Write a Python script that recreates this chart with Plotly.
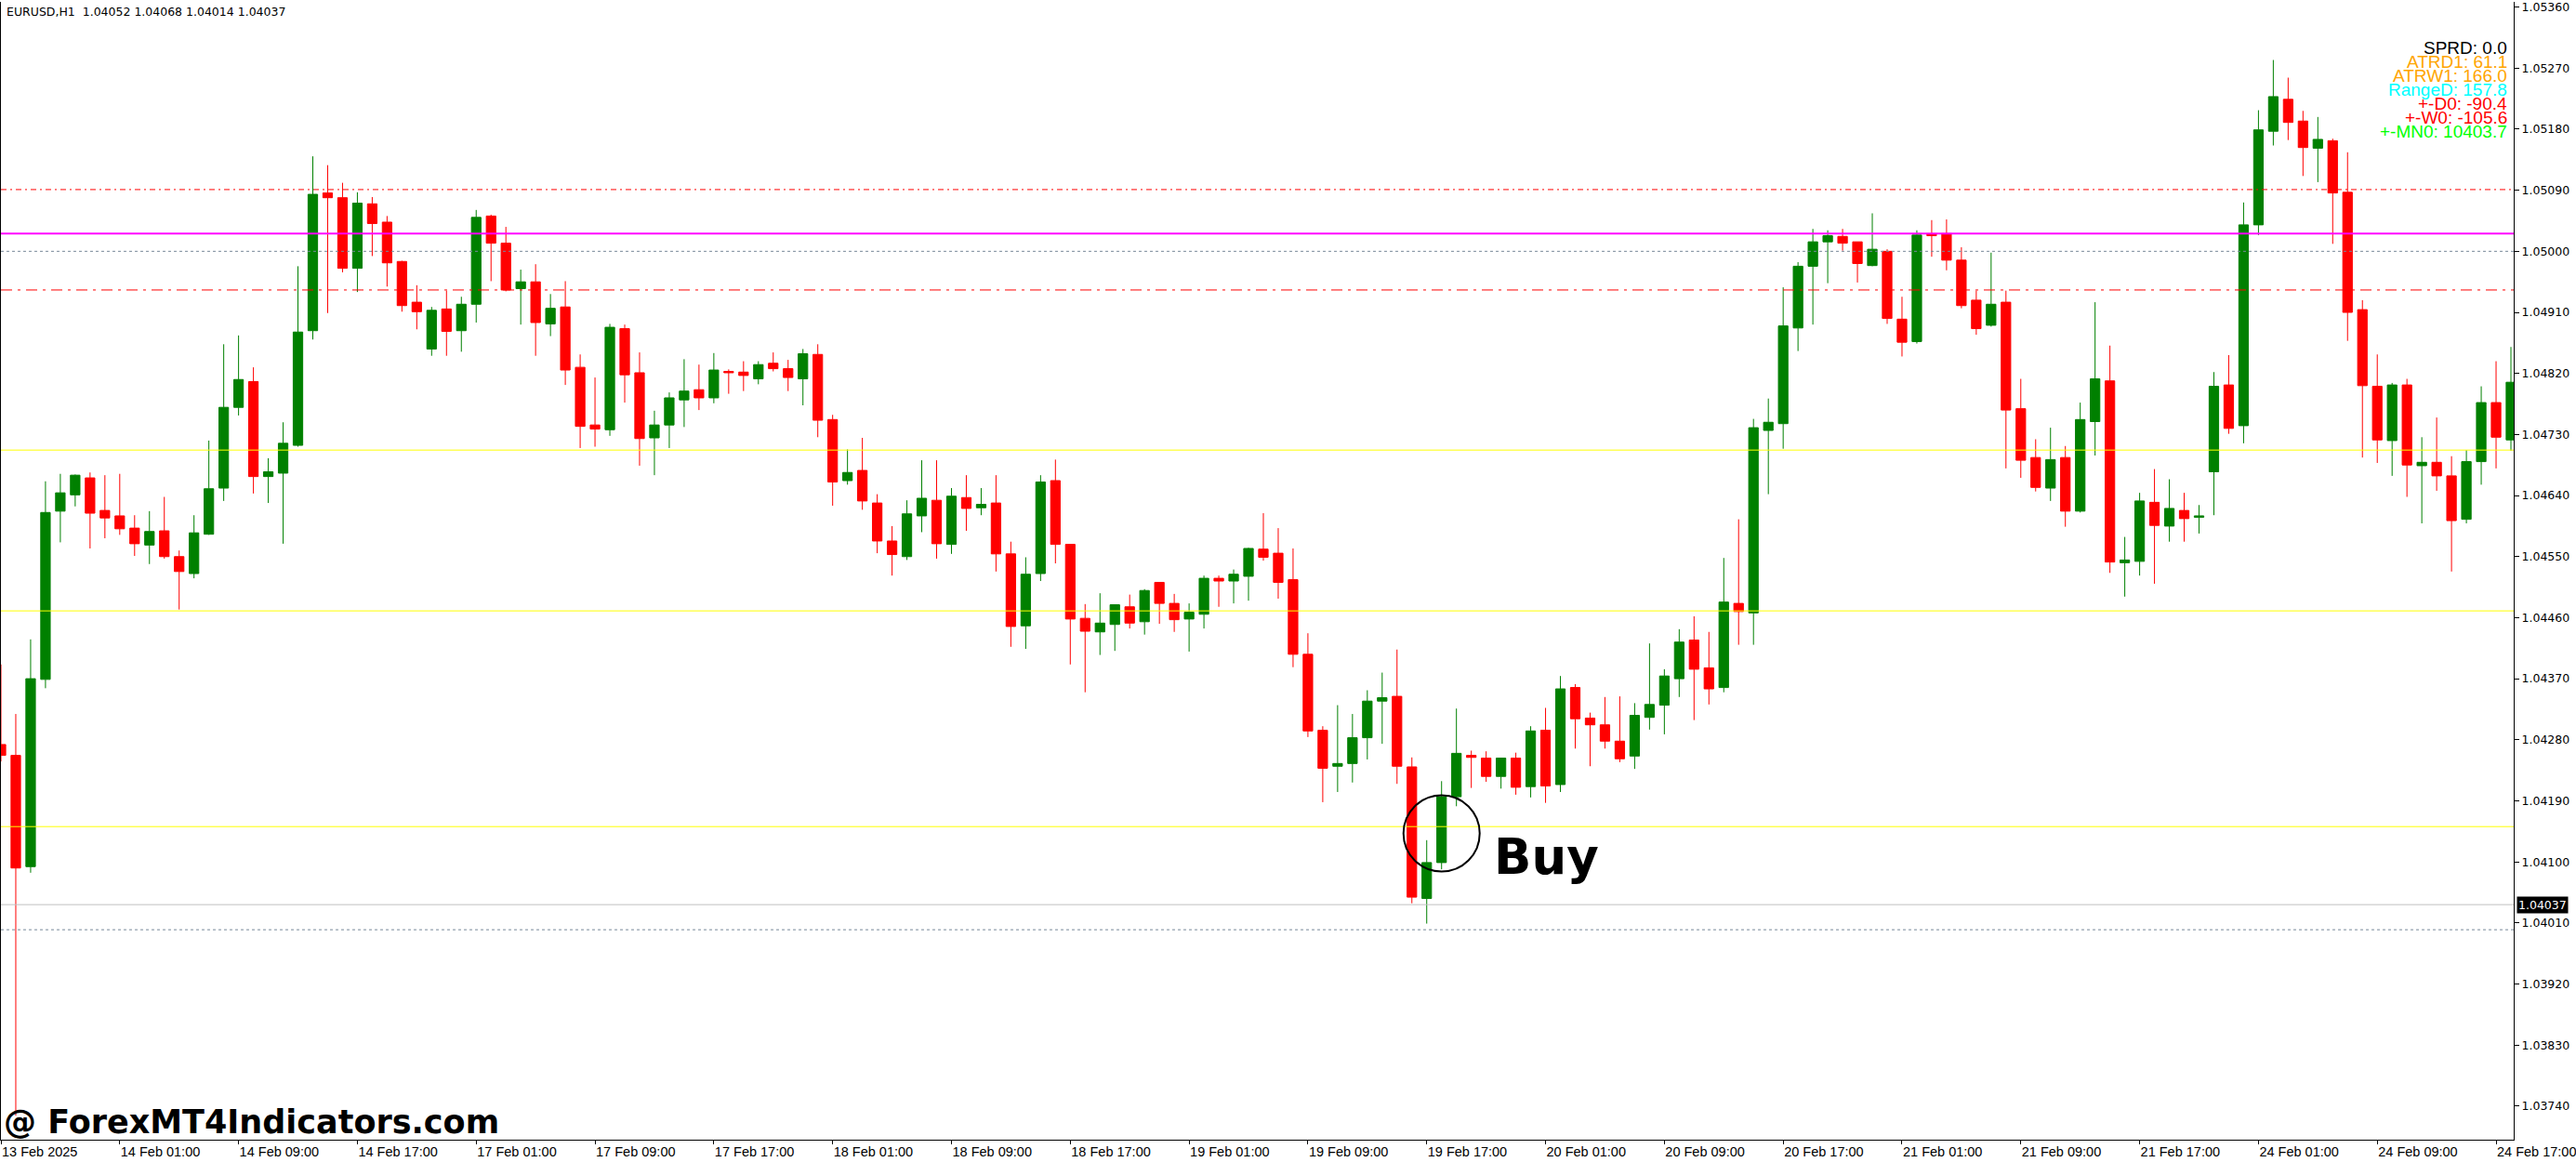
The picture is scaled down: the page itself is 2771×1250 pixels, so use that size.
import plotly.graph_objects as go

# ---------------- data (EURUSD H1, 13 Feb 17:00 .. 24 Feb 18:00) ----------------
OPEN = [1.04273, 1.04257, 1.04093, 1.04369, 1.04617, 1.04641, 1.04666, 1.04618, 1.04610, 1.04592,
        1.04567, 1.04588, 1.04550, 1.04525, 1.04583, 1.04651, 1.04770, 1.04808, 1.04668, 1.04673,
        1.04714, 1.04883, 1.05086, 1.05079, 1.04975, 1.05070, 1.05043, 1.04985, 1.04925, 1.04856,
        1.04915, 1.04883, 1.04922, 1.05052, 1.05012, 1.04945, 1.04955, 1.04893, 1.04918, 1.04829,
        1.04744, 1.04737, 1.04886, 1.04821, 1.04725, 1.04744, 1.04781, 1.04796, 1.04784, 1.04823,
        1.04822, 1.04812, 1.04835, 1.04827, 1.04812, 1.04848, 1.04752, 1.04662, 1.04677, 1.04629,
        1.04573, 1.04550, 1.04610, 1.04633, 1.04568, 1.04637, 1.04622, 1.04629, 1.04554, 1.04448,
        1.04525, 1.04662, 1.04568, 1.04459, 1.04439, 1.04450, 1.04476, 1.04454, 1.04512, 1.04481,
        1.04458, 1.04465, 1.04518, 1.04514, 1.04521, 1.04561, 1.04555, 1.04516, 1.04406, 1.04294,
        1.04241, 1.04245, 1.04283, 1.04337, 1.04344, 1.04240, 1.04046, 1.04099, 1.04196, 1.04257,
        1.04253, 1.04226, 1.04253, 1.04211, 1.04294, 1.04214, 1.04357, 1.04312, 1.04302, 1.04278,
        1.04256, 1.04313, 1.04331, 1.04370, 1.04427, 1.04386, 1.04357, 1.04481, 1.04467, 1.04736,
        1.04746, 1.04887, 1.04978, 1.05014, 1.05022, 1.05014, 1.04979, 1.05000, 1.04900, 1.04867,
        1.05025, 1.05026, 1.04987, 1.04928, 1.04891, 1.04925, 1.04768, 1.04696, 1.04651, 1.04696,
        1.04617, 1.04749, 1.04809, 1.04541, 1.04543, 1.04630, 1.04595, 1.04618, 1.04608, 1.04675,
        1.04803, 1.04743, 1.05039, 1.05177, 1.05224, 1.05192, 1.05152, 1.05163, 1.05087, 1.04914,
        1.04801, 1.04721, 1.04803, 1.04684, 1.04689, 1.04669, 1.04605, 1.04690, 1.04777, 1.04722]

HIGH = [1.04391, 1.04318, 1.04428, 1.04661, 1.04672, 1.04671, 1.04674, 1.04670, 1.04672, 1.04611,
        1.04617, 1.04638, 1.04559, 1.04611, 1.04721, 1.04863, 1.04876, 1.04829, 1.04695, 1.04748,
        1.04978, 1.05140, 1.05127, 1.05101, 1.05087, 1.05080, 1.05052, 1.04986, 1.04950, 1.04918,
        1.04942, 1.04933, 1.05061, 1.05054, 1.05036, 1.04973, 1.04981, 1.04937, 1.04956, 1.04848,
        1.04814, 1.04893, 1.04892, 1.04851, 1.04765, 1.04792, 1.04841, 1.04833, 1.04850, 1.04826,
        1.04838, 1.04838, 1.04851, 1.04840, 1.04856, 1.04863, 1.04759, 1.04708, 1.04725, 1.04642,
        1.04595, 1.04633, 1.04692, 1.04692, 1.04651, 1.04670, 1.04651, 1.04670, 1.04572, 1.04549,
        1.04670, 1.04693, 1.04568, 1.04480, 1.04496, 1.04479, 1.04494, 1.04502, 1.04512, 1.04495,
        1.04481, 1.04522, 1.04522, 1.04531, 1.04563, 1.04614, 1.04592, 1.04562, 1.04437, 1.04300,
        1.04331, 1.04318, 1.04353, 1.04379, 1.04413, 1.04254, 1.04132, 1.04219, 1.04326, 1.04264,
        1.04263, 1.04253, 1.04261, 1.04300, 1.04327, 1.04374, 1.04362, 1.04320, 1.04343, 1.04344,
        1.04334, 1.04422, 1.04384, 1.04443, 1.04462, 1.04439, 1.04548, 1.04605, 1.04753, 1.04783,
        1.04947, 1.04984, 1.05033, 1.05031, 1.05033, 1.05014, 1.05056, 1.05003, 1.04933, 1.05031,
        1.05046, 1.05047, 1.05006, 1.04942, 1.04998, 1.04942, 1.04812, 1.04723, 1.04740, 1.04713,
        1.04777, 1.04925, 1.04861, 1.04579, 1.04644, 1.04679, 1.04664, 1.04644, 1.04626, 1.04822,
        1.04847, 1.05072, 1.05208, 1.05282, 1.05256, 1.05207, 1.05198, 1.05166, 1.05146, 1.04928,
        1.04848, 1.04806, 1.04812, 1.04726, 1.04755, 1.04698, 1.04707, 1.04801, 1.04838, 1.04859]

LOW = [1.04248, 1.03726, 1.04084, 1.04356, 1.04571, 1.04624, 1.04562, 1.04577, 1.04582, 1.04551,
       1.04539, 1.04547, 1.04472, 1.04518, 1.04582, 1.04632, 1.04758, 1.04643, 1.04629, 1.04569,
       1.04712, 1.04870, 1.04909, 1.04969, 1.04940, 1.04993, 1.04948, 1.04911, 1.04885, 1.04846,
       1.04846, 1.04852, 1.04895, 1.04956, 1.04941, 1.04892, 1.04846, 1.04875, 1.04803, 1.04710,
       1.04712, 1.04728, 1.04777, 1.04684, 1.04670, 1.04710, 1.04741, 1.04766, 1.04776, 1.04790,
       1.04794, 1.04804, 1.04823, 1.04794, 1.04773, 1.04726, 1.04625, 1.04656, 1.04619, 1.04555,
       1.04522, 1.04545, 1.04586, 1.04547, 1.04554, 1.04588, 1.04611, 1.04528, 1.04417, 1.04414,
       1.04514, 1.04540, 1.04391, 1.04350, 1.04405, 1.04411, 1.04444, 1.04435, 1.04451, 1.04439,
       1.04410, 1.04444, 1.04476, 1.04481, 1.04485, 1.04544, 1.04488, 1.04387, 1.04284, 1.04188,
       1.04203, 1.04217, 1.04251, 1.04274, 1.04215, 1.04039, 1.04009, 1.04089, 1.04182, 1.04209,
       1.04218, 1.04208, 1.04199, 1.04195, 1.04187, 1.04203, 1.04267, 1.04241, 1.04267, 1.04247,
       1.04237, 1.04295, 1.04288, 1.04343, 1.04309, 1.04332, 1.04350, 1.04420, 1.04420, 1.04642,
       1.04709, 1.04853, 1.04892, 1.04953, 1.05001, 1.04954, 1.04978, 1.04893, 1.04845, 1.04864,
       1.04992, 1.04972, 1.04916, 1.04877, 1.04889, 1.04680, 1.04666, 1.04646, 1.04632, 1.04594,
       1.04615, 1.04699, 1.04526, 1.04491, 1.04522, 1.04510, 1.04572, 1.04572, 1.04584, 1.04611,
       1.04731, 1.04717, 1.05024, 1.05156, 1.05164, 1.05111, 1.05102, 1.05011, 1.04868, 1.04696,
       1.04688, 1.04669, 1.04638, 1.04599, 1.04647, 1.04528, 1.04599, 1.04656, 1.04680, 1.04706]

CLOSE = [1.04257, 1.04091, 1.04370, 1.04615, 1.04644, 1.04670, 1.04614, 1.04607, 1.04591, 1.04569,
         1.04587, 1.04550, 1.04528, 1.04585, 1.04650, 1.04770, 1.04811, 1.04668, 1.04675, 1.04717,
         1.04881, 1.05084, 1.05079, 1.04975, 1.05071, 1.05041, 1.04983, 1.04920, 1.04911, 1.04913,
         1.04882, 1.04922, 1.05050, 1.05012, 1.04943, 1.04955, 1.04895, 1.04916, 1.04825, 1.04742,
         1.04738, 1.04888, 1.04818, 1.04724, 1.04744, 1.04784, 1.04794, 1.04784, 1.04825, 1.04821,
         1.04817, 1.04833, 1.04827, 1.04814, 1.04849, 1.04751, 1.04660, 1.04674, 1.04632, 1.04573,
         1.04553, 1.04613, 1.04636, 1.04569, 1.04639, 1.04621, 1.04627, 1.04554, 1.04447, 1.04524,
         1.04660, 1.04568, 1.04458, 1.04440, 1.04452, 1.04479, 1.04452, 1.04500, 1.04481, 1.04457,
         1.04468, 1.04518, 1.04514, 1.04524, 1.04562, 1.04549, 1.04512, 1.04406, 1.04293, 1.04238,
         1.04245, 1.04283, 1.04337, 1.04342, 1.04241, 1.04048, 1.04099, 1.04196, 1.04260, 1.04254,
         1.04226, 1.04253, 1.04210, 1.04293, 1.04212, 1.04355, 1.04311, 1.04302, 1.04278, 1.04252,
         1.04316, 1.04332, 1.04374, 1.04424, 1.04384, 1.04355, 1.04483, 1.04469, 1.04740, 1.04748,
         1.04890, 1.04978, 1.05014, 1.05023, 1.05012, 1.04982, 1.05003, 1.04901, 1.04866, 1.05024,
         1.05023, 1.04987, 1.04920, 1.04886, 1.04922, 1.04766, 1.04692, 1.04652, 1.04693, 1.04617,
         1.04752, 1.04812, 1.04542, 1.04545, 1.04632, 1.04596, 1.04621, 1.04606, 1.04610, 1.04801,
         1.04739, 1.05039, 1.05179, 1.05228, 1.05190, 1.05153, 1.05165, 1.05086, 1.04910, 1.04802,
         1.04722, 1.04803, 1.04685, 1.04689, 1.04669, 1.04603, 1.04690, 1.04777, 1.04726, 1.04807]

TIME_TICK_LABELS = ["13 Feb 2025", "14 Feb 01:00", "14 Feb 09:00", "14 Feb 17:00", "17 Feb 01:00",
                    "17 Feb 09:00", "17 Feb 17:00", "18 Feb 01:00", "18 Feb 09:00", "18 Feb 17:00",
                    "19 Feb 01:00", "19 Feb 09:00", "19 Feb 17:00", "20 Feb 01:00", "20 Feb 09:00",
                    "20 Feb 17:00", "21 Feb 01:00", "21 Feb 09:00", "21 Feb 17:00", "24 Feb 01:00",
                    "24 Feb 09:00", "24 Feb 17:00"]
BARS_PER_TIME_TICK = 8

PRICE_TICK_LABELS = ["1.05360", "1.05270", "1.05180", "1.05090", "1.05000", "1.04910", "1.04820",
                     "1.04730", "1.04640", "1.04550", "1.04460", "1.04370", "1.04280", "1.04190",
                     "1.04100", "1.04010", "1.03920", "1.03830", "1.03740"]

# horizontal levels
RED_DASHDOT_LEVELS = [1.05091, 1.04943]
MAGENTA_LEVEL = 1.05026
GRAY_DOT_LEVELS = [1.05000, 1.04000]
YELLOW_LEVELS = [1.04707, 1.04470, 1.04152]
BID_PRICE = 1.04037

TITLE_TEXT = "EURUSD,H1\u00a0\u00a01.04052 1.04068 1.04014 1.04037"
INFO_LINES = ["SPRD: 0.0", "ATRD1: 61.1", "ATRW1: 166.0", "RangeD: 157.8",
              "+-D0: -90.4", "+-W0: -105.6", "+-MN0: 10403.7"]
INFO_COLORS = ["#000000", "#FFA500", "#FFA500", "#00FFFF", "#FF0000", "#FF0000", "#00FF00"]

BUY_BAR = 97
BUY_CIRCLE_PRICE = 1.04142
BUY_TEXT_BAR = 100.4
BUY_TEXT_PRICE = 1.04108

# ---------------- figure ----------------
W, H = 2771, 1250
ML, MR, MT, MB = 1, 63, 0, 24
PLOT_W = W - ML - MR
PLOT_H = H - MT - MB
BAR_PX = 16.0
Y_TOP, Y_BOT = 1.053677, 1.036905

x = list(range(len(OPEN)))

fig = go.Figure()
fig.add_trace(go.Candlestick(
    x=x, open=OPEN, high=HIGH, low=LOW, close=CLOSE,
    increasing=dict(line=dict(color="#008000", width=1), fillcolor="#008000"),
    decreasing=dict(line=dict(color="#FF0000", width=1), fillcolor="#FF0000"),
    whiskerwidth=0, hoverinfo="skip", showlegend=False,
))

shapes = []
for i, lv in enumerate(RED_DASHDOT_LEVELS):
    shapes.append(dict(type="line", xref="paper", x0=0, x1=1, yref="y", y0=lv, y1=lv,
                       line=dict(color="#FF0000", width=1,
                                 dash="6px,4px,2px,4px" if i == 0 else "12px,6px,3px,6px"),
                       layer="above"))
for lv in GRAY_DOT_LEVELS:
    shapes.append(dict(type="line", xref="paper", x0=0, x1=1, yref="y", y0=lv, y1=lv,
                       line=dict(color="#778899", width=1, dash="3px,3px"), layer="above"))
for lv in YELLOW_LEVELS:
    shapes.append(dict(type="line", xref="paper", x0=0, x1=1, yref="y", y0=lv, y1=lv,
                       line=dict(color="#FFFF00", width=1), layer="above"))
shapes.append(dict(type="line", xref="paper", x0=0, x1=1, yref="y", y0=MAGENTA_LEVEL, y1=MAGENTA_LEVEL,
                   line=dict(color="#FF00FF", width=2), layer="above"))
shapes.append(dict(type="line", xref="paper", x0=0, x1=1, yref="y", y0=BID_PRICE, y1=BID_PRICE,
                   line=dict(color="#C0C0C0", width=1), layer="above"))
shapes.append(dict(type="circle", xref="x", yref="y", xsizemode="pixel", ysizemode="pixel",
                   xanchor=BUY_BAR, yanchor=BUY_CIRCLE_PRICE, x0=-41, x1=41, y0=-41, y1=41,
                   line=dict(color="#000000", width=2), layer="above"))

def py(px):
    return 1 - px / PLOT_H

annotations = [
    dict(text=TITLE_TEXT, xref="paper", yref="paper", x=0, y=py(11), xanchor="left", yanchor="middle",
         xshift=4, showarrow=False, font=dict(family="DejaVu Sans", size=12.5, color="#000000")),
    dict(text="@ ForexMT4Indicators.com", xref="paper", yref="paper", x=0, y=py(1207),
         xanchor="left", yanchor="middle", xshift=1, showarrow=False,
         font=dict(family="DejaVu Sans", size=35, color="#000000", weight="bold")),
    dict(text="Buy", xref="x", yref="y", x=BUY_TEXT_BAR, y=BUY_TEXT_PRICE, xanchor="left",
         yanchor="middle", showarrow=False,
         font=dict(family="DejaVu Sans", size=53, color="#000000", weight="bold")),
    dict(text="1.04037", xref="paper", yref="y", x=1, y=BID_PRICE, xanchor="left", yanchor="middle",
         xshift=3, showarrow=False, bgcolor="#000000", borderpad=1,
         font=dict(family="DejaVu Sans", size=12.5, color="#FFFFFF")),
]
for k, (txt, col) in enumerate(zip(INFO_LINES, INFO_COLORS)):
    annotations.append(dict(text=txt, xref="paper", yref="paper", x=1, y=py(50 + 15 * k),
                            xanchor="right", yanchor="middle", xshift=-5, showarrow=False,
                            font=dict(family="Liberation Sans", size=19, color=col)))

fig.update_layout(
    width=W, height=H, margin=dict(l=ML, r=MR, t=MT, b=MB, pad=0),
    paper_bgcolor="white", plot_bgcolor="white", showlegend=False,
    boxgap=0.36, boxgroupgap=0, hovermode=False,
    shapes=shapes, annotations=annotations,
    xaxis=dict(
        range=[0, PLOT_W / BAR_PX], type="linear", showgrid=False, zeroline=False,
        showline=True, linecolor="#000000", linewidth=1,
        ticks="outside", ticklen=4, tickcolor="#000000", tickwidth=1,
        tickvals=[i * BARS_PER_TIME_TICK for i in range(len(TIME_TICK_LABELS))],
        ticktext=TIME_TICK_LABELS, ticklabelposition="outside right", ticklabeloverflow="allow",
        tickfont=dict(family="Liberation Sans Narrow, Liberation Sans", size=14.5, color="#000000"),
        rangeslider=dict(visible=False), fixedrange=True,
    ),
    yaxis=dict(
        range=[Y_BOT, Y_TOP], side="right", showgrid=False, zeroline=False,
        showline=True, mirror=True, linecolor="#000000", linewidth=1,
        ticks="outside", ticklen=5, tickcolor="#000000", tickwidth=1,
        tickvals=[float(t) for t in PRICE_TICK_LABELS], ticktext=PRICE_TICK_LABELS,
        ticklabeloverflow="allow",
        tickfont=dict(family="DejaVu Sans", size=12.5, color="#000000"), fixedrange=True,
    ),
)

fig.write_html(
    "out.html",
    config={"displayModeBar": False, "staticPlot": True},
    post_script="document.body.style.margin='0';document.body.style.overflow='hidden';",
)
